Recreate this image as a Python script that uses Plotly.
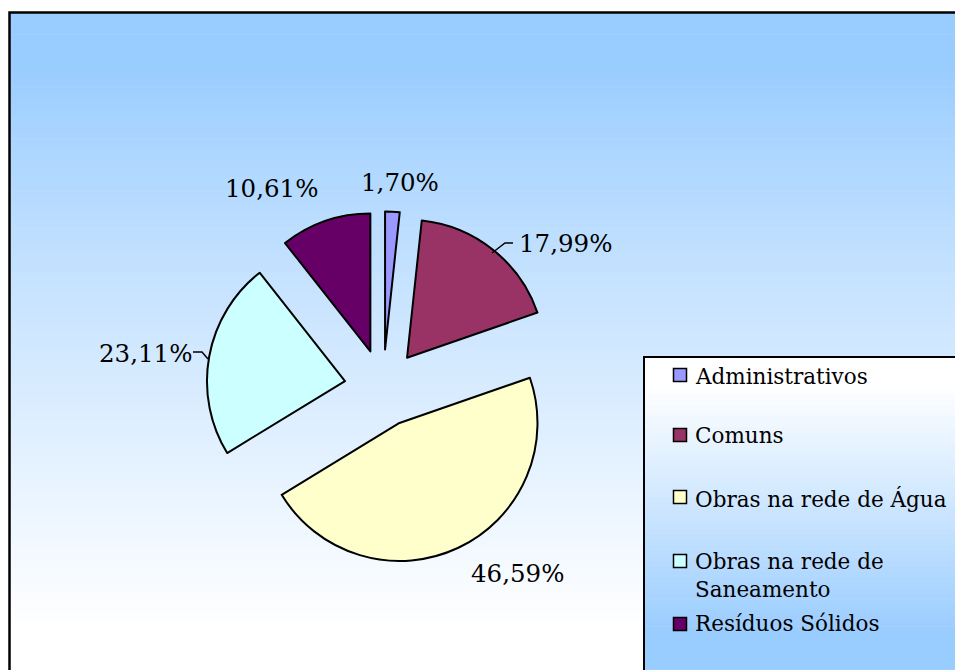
import plotly.graph_objects as go

# ---------------- data ----------------
categories = ["Administrativos", "Comuns", "Obras na rede de Água",
              "Obras na rede de Saneamento", "Resíduos Sólidos"]
legend_labels = ["Administrativos", "Comuns", "Obras na rede de Água",
                 "Obras na rede de<br>Saneamento", "Resíduos Sólidos"]
values = [1.70, 17.99, 46.59, 23.11, 10.61]
colors = ["#9999FF", "#993366", "#FFFFCC", "#CCFFFF", "#660066"]

# ---------------- layout constants (pixels) ----------------
W, H = 955, 670
FONT = "DejaVu Serif"


def X(px):
    return px / W


def Y(py):
    return 1 - py / H


def mix(c1, c2, t):
    t = max(0.0, min(1.0, t))
    return "rgb(%d,%d,%d)" % tuple(round(a + (b - a) * t) for a, b in zip(c1, c2))


BLUE = (153, 204, 255)
WHITE = (255, 255, 255)

shapes = []

# background gradient inside frame (blue top -> white bottom)
y0, y1 = 12, 680
n = 90
for i in range(n):
    ya = y0 + (y1 - y0) * i / n
    yb = y0 + (y1 - y0) * (i + 1) / n + 0.6
    t = ((ya + yb) / 2 - 70) / 560
    t = max(0.0, min(1.0, t)) ** 0.85
    shapes.append(dict(type="rect", xref="paper", yref="paper",
                       x0=X(9), x1=X(970), y0=Y(ya), y1=Y(yb),
                       fillcolor=mix(BLUE, WHITE, t), line=dict(width=0),
                       layer="below"))
# frame border
shapes.append(dict(type="rect", xref="paper", yref="paper",
                   x0=X(9.5), x1=X(975), y0=Y(12.5), y1=Y(690),
                   fillcolor="rgba(0,0,0,0)", line=dict(color="black", width=2.5),
                   layer="below"))

# legend box gradient (white top -> blue bottom)
ly0, ly1 = 357, 680
n2 = 60
for i in range(n2):
    ya = ly0 + (ly1 - ly0) * i / n2
    yb = ly0 + (ly1 - ly0) * (i + 1) / n2 + 0.6
    t = ((ya + yb) / 2 - 385) / 250
    shapes.append(dict(type="rect", xref="paper", yref="paper",
                       x0=X(644), x1=X(970), y0=Y(ya), y1=Y(yb),
                       fillcolor=mix(WHITE, BLUE, t), line=dict(width=0),
                       layer="above"))
shapes.append(dict(type="rect", xref="paper", yref="paper",
                   x0=X(644), x1=X(975), y0=Y(357), y1=Y(690),
                   fillcolor="rgba(0,0,0,0)", line=dict(color="black", width=2),
                   layer="above"))

annotations = []

# custom legend
legend_y = [375, 435, 497, 561, 624]
legend_text_y = [376, 436, 499, 575, 623]
for lab, col, cy, ty in zip(legend_labels, colors, legend_y, legend_text_y):
    shapes.append(dict(type="rect", xref="paper", yref="paper",
                       x0=X(673.5), x1=X(686.5), y0=Y(cy - 6.5), y1=Y(cy + 6.5),
                       fillcolor=col, line=dict(color="black", width=1.5),
                       layer="above"))
    annotations.append(dict(xref="paper", yref="paper", x=X(693), y=Y(ty),
                            xanchor="left", yanchor="middle", align="left",
                            text=lab, showarrow=False,
                            font=dict(family=FONT, size=21.5, color="black")))

# data labels (positions chosen to match the reference placement)
label_pos = [(400, 182), (565, 243), (517, 573), (145, 353), (271, 188)]
for v, (lx, ly) in zip(values, label_pos):
    annotations.append(dict(xref="paper", yref="paper", x=X(lx), y=Y(ly),
                            xanchor="center", yanchor="middle",
                            text=f"{v:.2f}".replace(".", ",") + "%",
                            showarrow=False,
                            font=dict(family=FONT, size=24.5, color="black")))

# leader lines
leaders = [[(513, 243), (505, 243), (492, 253)],
           [(193, 352), (202, 352), (208, 359)]]
for pts in leaders:
    path = "M " + " L ".join(f"{X(a)},{Y(b)}" for a, b in pts)
    shapes.append(dict(type="path", xref="paper", yref="paper", path=path,
                       line=dict(color="black", width=1.5), layer="above"))

# pie geometry: centre (383,387), radius ~138 px, pull 0.28
CX, CY, R, PULL = 383, 388, 138, 0.28
half = R * (1 + PULL)

fig = go.Figure(go.Pie(
    labels=categories,
    values=values,
    marker=dict(colors=colors, line=dict(color="black", width=2)),
    sort=False,
    direction="clockwise",
    rotation=0,
    pull=[PULL] * len(values),
    textinfo="none",
    showlegend=False,
    domain=dict(x=[X(CX - half), X(CX + half)],
                y=[Y(CY + half), Y(CY - half)]),
))

fig.update_layout(
    width=W, height=H,
    margin=dict(l=0, r=0, t=0, b=0),
    paper_bgcolor="white",
    plot_bgcolor="rgba(0,0,0,0)",
    shapes=shapes,
    annotations=annotations,
    showlegend=False,
)

fig.write_html("out.html")
